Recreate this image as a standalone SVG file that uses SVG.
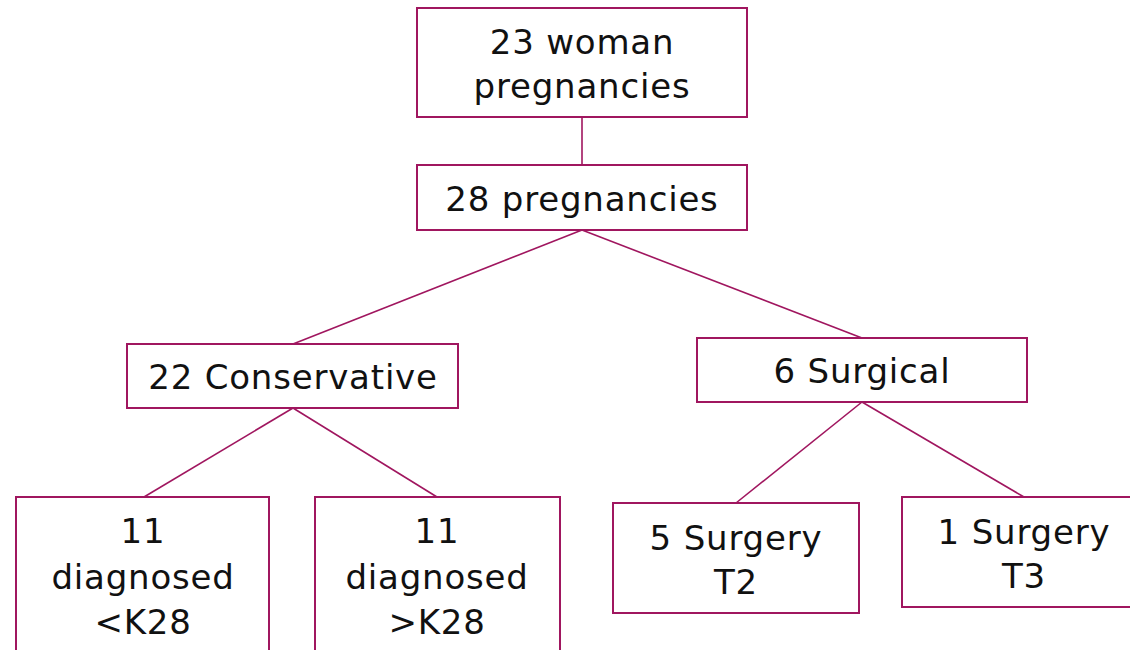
<svg xmlns="http://www.w3.org/2000/svg" width="1130" height="650" viewBox="0 0 1130 650">
<style>
.box{fill:#fff;stroke:#A0165F;stroke-width:2}
.ln{stroke:#A0165F;stroke-width:1.6;fill:none}
text{font-family:"DejaVu Sans","Liberation Sans",sans-serif;font-size:34px;letter-spacing:0.8px;fill:#111;text-anchor:middle}
</style>
<rect width="1130" height="650" fill="#fff"/>
<g id="connectors">
<line class="ln" x1="582" y1="117" x2="582" y2="165"/>
<line class="ln" x1="582" y1="230" x2="293" y2="344"/>
<line class="ln" x1="582" y1="230" x2="862" y2="338"/>
<line class="ln" x1="293" y1="408" x2="144" y2="497"/>
<line class="ln" x1="293" y1="408" x2="437" y2="497"/>
<line class="ln" x1="862" y1="402" x2="736" y2="503"/>
<line class="ln" x1="862" y1="402" x2="1024" y2="497"/>
</g>
<g id="n1"><rect class="box" x="417" y="8" width="330" height="109"/><text x="582" y="54">23 woman</text><text x="582" y="98">pregnancies</text></g>
<g id="n2"><rect class="box" x="417" y="165" width="330" height="65"/><text x="582" y="211">28 pregnancies</text></g>
<g id="n3"><rect class="box" x="127" y="344" width="331" height="64"/><text x="293" y="389">22 Conservative</text></g>
<g id="n4"><rect class="box" x="697" y="338" width="330" height="64"/><text x="862" y="383">6 Surgical</text></g>
<g id="n5"><rect class="box" x="16" y="497" width="253" height="170"/><text x="143" y="543">11</text><text x="143" y="589">diagnosed</text><text x="143" y="634">&lt;K28</text></g>
<g id="n6"><rect class="box" x="315" y="497" width="245" height="170"/><text x="437" y="543">11</text><text x="437" y="589">diagnosed</text><text x="437" y="634">&gt;K28</text></g>
<g id="n7"><rect class="box" x="613" y="503" width="246" height="110"/><text x="736" y="550">5 Surgery</text><text x="736" y="594">T2</text></g>
<g id="n8"><rect class="box" x="902" y="497" width="240" height="110"/><text x="1024" y="544">1 Surgery</text><text x="1024" y="588">T3</text></g>
</svg>
